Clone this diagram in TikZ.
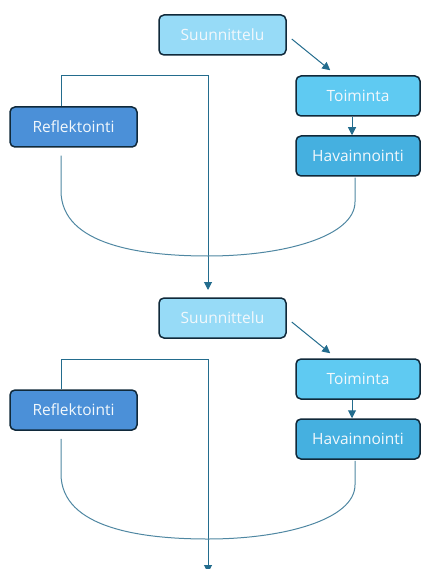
\documentclass[tikz,border=0pt]{standalone}
\usepackage{fontspec}
\setmainfont{Open Sans}
\usetikzlibrary{arrows.meta,calc}
\definecolor{cS}{HTML}{97DBF7}
\definecolor{cT}{HTML}{5FCAF2}
\definecolor{cH}{HTML}{45B0E0}
\definecolor{cR}{HTML}{4B90D8}
\definecolor{bord}{HTML}{10293A}
\definecolor{link}{HTML}{236C8D}
\definecolor{curv}{HTML}{4F87A2}
\definecolor{txt}{HTML}{F2F8FC}
\tikzset{
  box/.style={draw=bord, line width=1.5pt, rounded corners=5pt, minimum height=40pt, inner sep=0pt,
    text=txt, font=\fontsize{15.5}{18}\selectfont},
  arr/.style={draw=link, line width=1pt, -{Triangle[length=8pt,width=8pt]}},
  curve/.style={draw=curv, line width=1pt},
}
\begin{document}
\begin{tikzpicture}[x=1pt,y=1pt]
\useasboundingbox (0,0) rectangle (421,-569);
\clip (0,0) rectangle (421,-569);
\foreach \o/\s in {0/a,283/b}{
  \begin{scope}[yshift=-\o pt]
  \node[box, fill=cS, minimum width=127pt] (S\s) at (222.5,-35) {Suunnittelu};
  \node[box, fill=cT, minimum width=124pt] (T\s) at (358,-96) {Toiminta};
  \node[box, fill=cH, minimum width=124pt] (H\s) at (358,-156) {Havainnointi};
  \node[box, fill=cR, minimum width=127pt] (R\s) at (73.5,-127) {Reflektointi};
  \coordinate (C\s) at (208,-76);
  \coordinate (E\s) at (208,-290);
  \coordinate (B\s) at (208,-256);
  \draw[arr] ([shift={(5,-4)}]S\s.east) -- ([shift={(35,5)}]T\s.north west);
  \draw[arr] ([xshift=-6pt]T\s.south) -- ([xshift=-6pt]H\s.north);
  \draw[arr] ([xshift=-12.5pt]R\s.north) |- (C\s) -- (E\s);
  \draw[curve] ([shift={(-12.5,-8)}]R\s.south) -- ++(0,-35)
     .. controls ++(0,-55) and ++(-65,0) .. (B\s)
     .. controls ++(75,0) and ++(0,-35) .. ([shift={(-3,-25)}]H\s.south)
     -- ([shift={(-3,-1)}]H\s.south);
  \end{scope}
}
\end{tikzpicture}
\end{document}
